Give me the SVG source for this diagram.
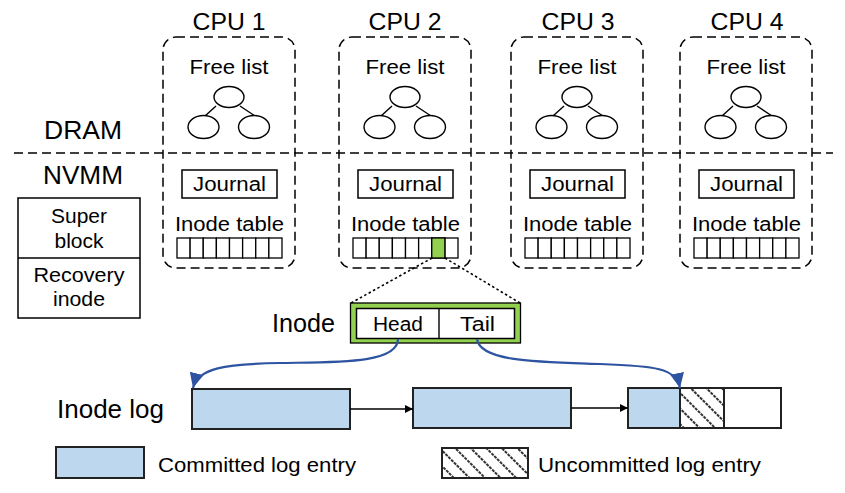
<svg xmlns="http://www.w3.org/2000/svg" width="845" height="493" viewBox="0 0 845 493">
<style>
text{font-family:"Liberation Sans",Arial,Helvetica,sans-serif;fill:#000;}
.cpu{font-size:23px;text-anchor:middle;}
.lbl{font-size:20px;text-anchor:middle;}
.leg{font-size:20px;text-anchor:start;}
.big{font-size:25px;}
.box{fill:#fff;stroke:#000;stroke-width:1.5;}
.dash{fill:none;stroke:#000;stroke-width:1.5;stroke-dasharray:9 5;}
.ell{fill:#fff;stroke:#000;stroke-width:1.4;}
.tl{stroke:#000;stroke-width:1.4;}
.cell{fill:#fff;stroke:#000;stroke-width:1.3;}
.log{fill:#BDD7EE;stroke:#222;stroke-width:2;}
.blue{fill:none;stroke:#2E54A1;stroke-width:2.2;}
.dot{stroke:#000;stroke-width:1.6;stroke-dasharray:2.5 2.5;}
</style>
<defs>
<marker id="bh" markerUnits="userSpaceOnUse" markerWidth="16" markerHeight="14" refX="15" refY="7" orient="auto">
<path d="M0,0 L15,7 L0,14 z" fill="#2E54A1"/>
</marker>
<marker id="ah" markerUnits="userSpaceOnUse" markerWidth="9" markerHeight="8" refX="8" refY="4" orient="auto">
<path d="M0,0 L8,4 L0,8 z" fill="#000"/>
</marker>
<pattern id="hatch" patternUnits="userSpaceOnUse" width="11" height="12" patternTransform="rotate(-45)">
<line x1="5" y1="0" x2="5" y2="12" stroke="#000" stroke-width="1.6" stroke-dasharray="3 1"/>
</pattern>
<g id="cpuproto">
<path class="dash" d="M176,37 H282 A13,13 0 0 1 295,50 V255 A13,13 0 0 1 282,268 H176 A13,13 0 0 1 163,255 V50 A13,13 0 0 1 176,37 Z"/>
<text class="lbl" x="229" y="74" textLength="79" lengthAdjust="spacingAndGlyphs">Free list</text>
<line class="tl" x1="216" y1="106" x2="205" y2="116"/>
<line class="tl" x1="240" y1="106" x2="255" y2="116"/>
<ellipse class="ell" cx="229" cy="97" rx="15" ry="10.5"/>
<ellipse class="ell" cx="203.5" cy="127" rx="15.5" ry="11.5"/>
<ellipse class="ell" cx="254" cy="127" rx="15.5" ry="11.5"/>
<rect class="box" x="182" y="170" width="95" height="28"/>
<text class="lbl" x="229.5" y="191" textLength="73" lengthAdjust="spacingAndGlyphs">Journal</text>
<text class="lbl" x="229.5" y="231" textLength="109" lengthAdjust="spacingAndGlyphs">Inode table</text>
<rect class="cell" x="177" y="238" width="13.125" height="20"/>
<rect class="cell" x="190.125" y="238" width="13.125" height="20"/>
<rect class="cell" x="203.25" y="238" width="13.125" height="20"/>
<rect class="cell" x="216.375" y="238" width="13.125" height="20"/>
<rect class="cell" x="229.5" y="238" width="13.125" height="20"/>
<rect class="cell" x="242.625" y="238" width="13.125" height="20"/>
<rect class="cell" x="255.75" y="238" width="13.125" height="20"/>
<rect class="cell" x="268.875" y="238" width="13.125" height="20"/>
</g>
</defs>

<line class="dash" x1="14" y1="153" x2="833" y2="153" stroke-dasharray="10 6"/>
<text class="big" x="83" y="139" text-anchor="middle" textLength="78" lengthAdjust="spacingAndGlyphs">DRAM</text>
<text class="big" x="83" y="184" text-anchor="middle" textLength="80" lengthAdjust="spacingAndGlyphs">NVMM</text>

<g id="cpu1">
<text class="cpu" x="229" y="30" textLength="73" lengthAdjust="spacingAndGlyphs">CPU 1</text>
<use href="#cpuproto"/>
</g>
<g id="cpu2">
<text class="cpu" x="405" y="30" textLength="73" lengthAdjust="spacingAndGlyphs">CPU 2</text>
<use href="#cpuproto" transform="translate(176,0)"/>
<rect x="431.75" y="238" width="13.125" height="20" fill="#92D050" stroke="#000" stroke-width="1.3"/>
</g>
<g id="cpu3">
<text class="cpu" x="578" y="30" textLength="73" lengthAdjust="spacingAndGlyphs">CPU 3</text>
<use href="#cpuproto" transform="translate(348,0)"/>
</g>
<g id="cpu4">
<text class="cpu" x="747" y="30" textLength="73" lengthAdjust="spacingAndGlyphs">CPU 4</text>
<use href="#cpuproto" transform="translate(517,0)"/>
</g>

<g id="superblock">
<rect class="box" x="18" y="198" width="122" height="120"/>
<line class="tl" x1="18" y1="258" x2="140" y2="258"/>
<text class="lbl" x="79" y="223" textLength="56" lengthAdjust="spacingAndGlyphs">Super</text>
<text class="lbl" x="79" y="248" textLength="49" lengthAdjust="spacingAndGlyphs">block</text>
<text class="lbl" x="79" y="282" textLength="91" lengthAdjust="spacingAndGlyphs">Recovery</text>
<text class="lbl" x="79" y="306" textLength="52" lengthAdjust="spacingAndGlyphs">inode</text>
</g>

<g id="inode">
<text class="big" x="272" y="332" textLength="63" lengthAdjust="spacingAndGlyphs">Inode</text>
<rect x="350.5" y="303" width="170" height="40" fill="#92D050" stroke="#000" stroke-width="1.3"/>
<rect x="356.5" y="308.5" width="158" height="30" fill="#fff" stroke="#000" stroke-width="1.5"/>
<line class="tl" x1="439" y1="308.5" x2="439" y2="338.5"/>
<text class="lbl" x="398" y="331" textLength="50" lengthAdjust="spacingAndGlyphs">Head</text>
<text class="lbl" x="477.5" y="331" textLength="35" lengthAdjust="spacingAndGlyphs">Tail</text>
</g>

<g id="inodelog">
<text class="big" x="57" y="418" textLength="107" lengthAdjust="spacingAndGlyphs">Inode log</text>
<rect class="log" x="192" y="389" width="158" height="40"/>
<rect class="log" x="413" y="388" width="158" height="40"/>
<rect class="log" x="628" y="388" width="52" height="40"/>
<rect x="680" y="388" width="44" height="40" fill="#fff" stroke="none"/>
<rect x="680" y="388" width="44" height="40" fill="url(#hatch)" stroke="#222" stroke-width="2"/>
<rect x="724" y="388" width="57" height="40" fill="#fff" stroke="#222" stroke-width="2"/>
</g>

<g id="legend">
<rect class="log" x="56" y="447" width="88" height="31"/>
<text class="leg" x="158" y="472" textLength="198" lengthAdjust="spacingAndGlyphs">Committed log entry</text>
<rect x="442" y="448" width="86" height="30" fill="#fff" stroke="none"/>
<rect x="442" y="448" width="86" height="30" fill="url(#hatch)" stroke="#222" stroke-width="2"/>
<text class="leg" x="538" y="472" textLength="223" lengthAdjust="spacingAndGlyphs">Uncommitted log entry</text>
</g>

<g id="connectors">
<line class="dot" x1="432" y1="258" x2="351" y2="303"/>
<line class="dot" x1="445" y1="258" x2="520" y2="303"/>
<path class="blue" d="M398,339 C398,364 335,362 280,363 C225,364 198,368 193,388" marker-end="url(#bh)"/>
<path class="blue" d="M477,339 C480,362 540,362 600,364 C655,366 676,368 680,388" marker-end="url(#bh)"/>
<line x1="350" y1="409" x2="413" y2="409" stroke="#000" stroke-width="1.3" marker-end="url(#ah)"/>
<line x1="571" y1="408" x2="628" y2="408" stroke="#000" stroke-width="1.3" marker-end="url(#ah)"/>
</g>
</svg>
